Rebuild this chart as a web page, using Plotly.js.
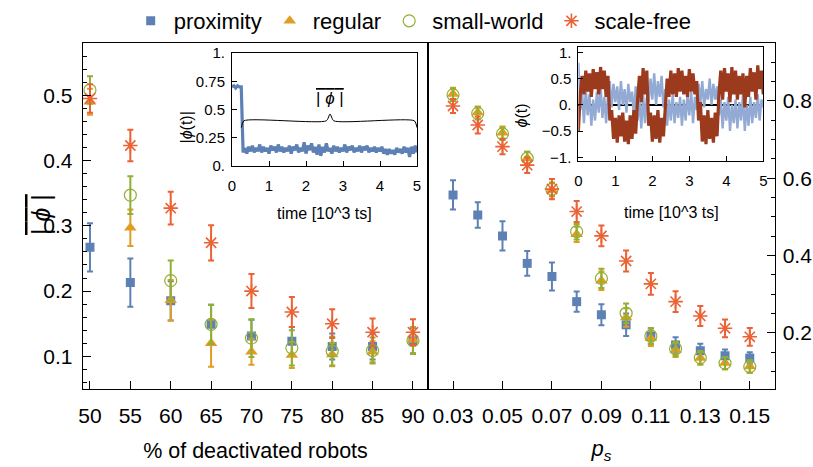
<!DOCTYPE html>
<html><head><meta charset="utf-8">
<script src="https://cdn.plot.ly/plotly-3.0.1.min.js"></script>
<style>html,body{margin:0;padding:0;background:#fff}#chart{width:813px;height:467px}</style>
</head><body><div id="chart"></div>
<script>
// ---------- data ----------
const seriesNames = ['proximity','regular','small-world','scale-free'];
const seriesColors = ['#5E81B5','#E19C24','#8FB032','#EB6235'];

const deactivated = [50,55,60,65,70,75,80,85,90];
const proxDeact    = [0.267,0.213,0.185,0.149,0.131,0.123,0.115,0.115,0.124];
const proxDeactErr = [0.037,0.037,0.030,0.030,0.025,0.022,0.020,0.020,0.020];
const regDeact     = [0.490,0.297,0.186,0.120,0.107,0.102,0.103,0.107,0.125];
const regDeactErr  = [0.020,0.028,0.031,0.036,0.020,0.020,0.018,0.016,0.020];
const swDeact      = [0.508,0.347,0.216,0.149,0.128,0.113,0.108,0.109,0.124];
const swDeactErr   = [0.021,0.029,0.031,0.030,0.029,0.027,0.022,0.020,0.020];
const sfDeact      = [0.495,0.423,0.327,0.274,0.200,0.168,0.150,0.137,0.137];
const sfDeactErr   = [0.022,0.024,0.025,0.027,0.026,0.023,0.022,0.021,0.020];

const ps = [0.03,0.04,0.05,0.06,0.07,0.08,0.09,0.10,0.11,0.12,0.13,0.14,0.15];
const proxPs    = [0.557,0.505,0.451,0.380,0.346,0.281,0.247,0.221,0.192,0.169,0.154,0.141,0.135];
const proxPsErr = [0.038,0.033,0.038,0.032,0.036,0.026,0.027,0.029,0.020,0.020,0.018,0.016,0.015];
const regPs     = [0.818,0.770,0.718,0.652,0.570,0.455,0.335,0.240,0.186,0.156,0.135,0.122,0.113];
const regPsErr  = [0.016,0.016,0.016,0.017,0.017,0.020,0.024,0.024,0.020,0.018,0.017,0.016,0.016];
const swPs      = [0.816,0.768,0.715,0.652,0.572,0.462,0.341,0.251,0.192,0.159,0.136,0.122,0.113];
const swPsErr   = [0.016,0.016,0.016,0.017,0.017,0.020,0.025,0.025,0.020,0.018,0.017,0.016,0.016];
const sfPs      = [0.787,0.738,0.682,0.634,0.572,0.514,0.451,0.386,0.327,0.281,0.244,0.212,0.190];
const sfPsErr   = [0.018,0.022,0.020,0.020,0.026,0.027,0.027,0.027,0.028,0.027,0.026,0.023,0.023];

// inset 1: |phi(t)| sampled every 0.05 (10^3 ts)
const inset1Abs = [0.70,0.71,0.69,0.71,0.70,0.70,0.12,
 0.16,0.11,0.17,0.13,0.18,0.12,0.16,0.13,0.19,0.12,0.17,0.13,0.16,0.11,
 0.18,0.14,0.17,0.12,0.19,0.13,0.17,0.12,0.16,0.13,0.18,0.11,0.17,0.14,0.19,0.12,0.16,0.13,0.21,0.11,
 0.18,0.14,0.20,0.12,0.17,0.10,0.19,0.09,0.17,0.12,0.20,0.13,0.16,0.11,0.18,0.13,0.17,0.12,0.16,0.13,
 0.19,0.12,0.17,0.14,0.18,0.12,0.16,0.13,0.18,0.12,0.17,0.14,0.18,0.12,0.16,0.13,0.17,0.12,0.16,0.13,
 0.17,0.11,0.15,0.10,0.15,0.11,0.14,0.10,0.16,0.12,0.15,0.11,0.17,0.12,0.16,0.08,0.17,0.11,0.18,0.12];
// brace over the plateau (inset 1 coordinates)
const braceT = [0.25,0.32,2.55,2.65,2.75,4.93,5.0];
const braceV = [0.34,0.40,0.40,0.46,0.40,0.40,0.34];

// inset 2: phi(t) of two runs, sampled every 0.05
const inset2Brown = [
 -0.50,0.20,0.55,0.20,0.65,0.25,0.60,0.15,0.68,0.30,
 0.62,0.20,0.72,0.30,0.65,0.15,0.55,-0.30,-0.10,-0.65,
 -0.25,-0.72,-0.20,-0.60,-0.15,-0.70,-0.30,-0.75,-0.20,-0.65,
 -0.10,-0.55,0.10,0.55,0.05,0.70,0.20,0.65,-0.40,-0.15,
 -0.70,-0.20,-0.65,-0.10,-0.72,-0.25,-0.60,0.10,0.50,0.15,
 0.65,0.20,0.60,0.15,0.70,0.25,0.65,0.20,0.55,0.15,
 0.68,0.25,0.60,0.20,0.45,-0.30,0.05,-0.70,-0.20,-0.75,
 -0.10,-0.65,-0.25,-0.72,-0.15,-0.60,0.20,0.65,0.10,0.70,
 0.25,0.60,0.05,0.72,0.20,0.65,0.10,0.55,0.20,0.60,
 -0.05,0.55,0.15,0.70,0.25,0.62,0.10,0.75,0.30,0.65,
 0.20];
const inset2Blue = [
 0.80,-0.10,0.25,-0.35,0.30,-0.20,0.20,-0.40,0.10,-0.30,
 0.25,-0.15,0.35,-0.25,0.15,-0.35,0.20,0.45,-0.05,0.40,
 0.05,0.35,-0.10,0.45,0.00,0.30,-0.15,0.40,0.05,0.25,
 -0.20,0.35,-0.30,0.10,-0.45,0.20,-0.35,0.15,0.05,0.50,
 0.10,0.60,0.00,0.45,0.15,0.55,-0.05,0.30,-0.40,0.10,
 -0.30,0.20,-0.35,0.05,-0.25,0.15,-0.40,0.10,-0.30,0.20,
 -0.20,0.25,-0.35,0.15,-0.10,0.40,0.05,0.45,-0.05,0.30,
 0.10,0.50,0.00,0.40,0.10,0.35,-0.20,0.10,-0.45,0.05,
 -0.30,0.15,-0.50,0.00,-0.35,0.10,-0.45,0.05,-0.30,0.20,
 -0.50,0.00,-0.40,0.15,-0.35,0.05,-0.25,0.20,-0.30,0.10,
 -0.05];

const inset1TickVals = [0,0.25,0.5,0.75,1];
const inset1TickText = ['0.','0.25','0.5','0.75','1.'];
const inset2TickVals = [-1,-0.5,0,0.5,1];
const inset2TickText = ['\u22121.','\u22120.5','0.','0.5','1.'];

// ---------- helpers ----------
const W = 813, H = 467;
const px = v => v / W;
const py = v => 1 - v / H;
const FONT = 'Liberation Sans, Arial, sans-serif';

const symbols = ['square','triangle-up','circle-open','asterisk-open'];
const sizes = [9,11,12,12];
const lineW = [0,0,1.2,1.6];

function mk(i, x, y, err, xa, ya, legend) {
  const c = seriesColors[i];
  return {
    type:'scatter', mode:'markers', x:x, y:y, xaxis:xa, yaxis:ya,
    name: seriesNames[i], showlegend: legend,
    marker:{symbol:symbols[i], size:sizes[i], color:c, line:{color:c, width:lineW[i]}},
    error_y:{type:'data', array:err, visible:true, color:c, thickness:2, width:3}
  };
}

const traces = [
  mk(0, deactivated, proxDeact, proxDeactErr, 'x','y', true),
  mk(1, deactivated, regDeact,  regDeactErr,  'x','y', true),
  mk(2, deactivated, swDeact,   swDeactErr,   'x','y', true),
  mk(3, deactivated, sfDeact,   sfDeactErr,   'x','y', true),
  mk(0, ps, proxPs, proxPsErr, 'x2','y2', false),
  mk(1, ps, regPs,  regPsErr,  'x2','y2', false),
  mk(2, ps, swPs,   swPsErr,   'x2','y2', false),
  mk(3, ps, sfPs,   sfPsErr,   'x2','y2', false),
  {type:'scatter', mode:'lines', y:inset1Abs, x0:0, dx:0.05, xaxis:'x3', yaxis:'y3',
   line:{color:'#5E81B5', width:3.2}, showlegend:false, hoverinfo:'skip'},
  {type:'scatter', mode:'lines', x:braceT, y:braceV, xaxis:'x3', yaxis:'y3',
   line:{color:'#000', width:1, shape:'spline', smoothing:0.6}, showlegend:false, hoverinfo:'skip'},
  {type:'scatter', mode:'lines', y:inset2Blue, x0:0, dx:0.05, xaxis:'x4', yaxis:'y4',
   line:{color:'#93ABD4', width:2.4}, showlegend:false, hoverinfo:'skip'},
  {type:'scatter', mode:'lines', y:inset2Brown, x0:0, dx:0.05, xaxis:'x4', yaxis:'y4',
   line:{color:'#9C3A1E', width:3.2}, showlegend:false, hoverinfo:'skip'}
];

const axBase = {
  showgrid:false, zeroline:false, showline:true, linecolor:'#000', linewidth:1,
  mirror:true, ticks:'inside', tickcolor:'#000', tickwidth:1, ticklen:8,
  tickfont:{family:FONT, size:21, color:'#000'}
};
const inBase = Object.assign({}, axBase, {ticklen:5, tickfont:{family:FONT, size:15, color:'#000'}});

const layout = {
  width:W, height:H, margin:{l:0,r:0,t:0,b:0},
  paper_bgcolor:'#fff', plot_bgcolor:'rgba(0,0,0,0)',
  font:{family:FONT, size:21, color:'#000'},
  showlegend:true,
  legend:{orientation:'h', x:0.507, xanchor:'center', y:1.0, yanchor:'top', itemwidth:36,
          font:{family:FONT, size:22, color:'#000'}, bgcolor:'rgba(0,0,0,0)'},
  xaxis: Object.assign({}, axBase, {domain:[px(82.7), px(428.3)], anchor:'y', range:[49.1,91.9],
          tick0:50, dtick:5, ticklabelstandoff:8,
          title:{text:'% of deactivated robots', font:{family:FONT,size:21.5}, standoff:16}}),
  yaxis: Object.assign({}, axBase, {domain:[py(389), py(43)], anchor:'x', range:[0.05,0.58],
          tick0:0, dtick:0.1, ticklabelstandoff:5,
          minor:{dtick:0.02, tick0:0, ticks:'inside', ticklen:4, tickcolor:'#000', showgrid:false}}),
  xaxis2: Object.assign({}, axBase, {domain:[px(428.3), px(774.5)], anchor:'y2', range:[0.02,0.16],
          tick0:0.03, dtick:0.02, tickformat:'.2f', ticklabelstandoff:8,
          title:{text:'<i>p</i><sub><i>s</i></sub>', font:{family:FONT,size:22}, standoff:14}}),
  yaxis2: Object.assign({}, axBase, {domain:[py(389), py(43)], anchor:'x2', side:'right', range:[0.055,0.95],
          tick0:0, dtick:0.2, ticklabelstandoff:3,
          minor:{dtick:0.05, tick0:0, ticks:'inside', ticklen:4, tickcolor:'#000', showgrid:false}}),
  xaxis3: Object.assign({}, inBase, {domain:[px(232), px(417)], anchor:'y3', range:[0,5], tick0:0, dtick:1,
          ticklabelstandoff:6}),
  yaxis3: Object.assign({}, inBase, {domain:[py(166), py(53)], anchor:'x3', range:[0,1],
          tickmode:'array', tickvals:inset1TickVals, ticktext:inset1TickText, ticklabelstandoff:3}),
  xaxis4: Object.assign({}, inBase, {domain:[px(578.4), px(763.3)], anchor:'y4', range:[0,5], tick0:0, dtick:1,
          ticklabelstandoff:6}),
  yaxis4: Object.assign({}, inBase, {domain:[py(160.7), py(47.3)], anchor:'x4', range:[-1.065,1.095],
          tickmode:'array', tickvals:inset2TickVals, ticktext:inset2TickText, ticklabelstandoff:3,
          zeroline:true, zerolinecolor:'#000', zerolinewidth:1.5}),
  annotations: [
    {xref:'paper', yref:'paper', x:px(25), y:py(215), textangle:-90, showarrow:false,
     text:'<span style="text-decoration:overline">| <i>ϕ</i> |</span>', font:{family:FONT,size:25}},
    {xref:'paper', yref:'paper', x:px(175), y:py(110), textangle:-90, showarrow:false,
     text:'|<i>ϕ</i>(t)|', font:{family:FONT,size:16}},
    {xref:'paper', yref:'paper', x:px(521.7), y:py(101.7), textangle:-90, showarrow:false,
     text:'<i>ϕ</i>(t)', font:{family:FONT,size:16}},
    {xref:'paper', yref:'paper', x:px(324), y:py(213), xanchor:'center', showarrow:false,
     text:'time [10^3 ts]', font:{family:FONT,size:16}},
    {xref:'paper', yref:'paper', x:px(671), y:py(212), xanchor:'center', showarrow:false,
     text:'time [10^3 ts]', font:{family:FONT,size:16}},
    {xref:'x3', yref:'y3', x:2.65, y:0.6, showarrow:false,
     text:'<span style="text-decoration:overline">| <i>ϕ</i> |</span>', font:{family:FONT,size:17}}
  ]
};

Plotly.newPlot('chart', traces, layout, {displayModeBar:false, staticPlot:true});
</script>
</body></html>
